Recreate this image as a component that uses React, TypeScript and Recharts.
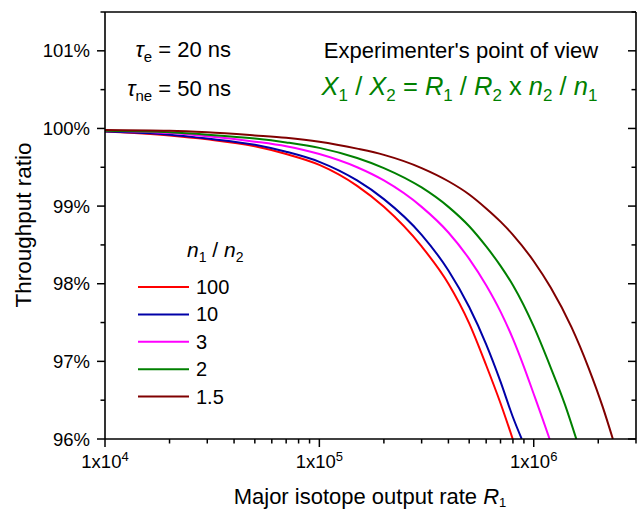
import { LineChart, Line, XAxis, YAxis, Legend, Customized } from 'recharts';

// Throughput ratio (%) vs. major isotope output rate R1 (counts/s), one curve per n1/n2
const rate100 = [1e4, 2e4, 3e4, 5e4, 7e4, 1e5, 1.5e5, 2e5, 3e5, 4e5, 5e5, 6e5, 7e5, 7.98e5];
const ratio100 = [99.96, 99.91, 99.86, 99.77, 99.67, 99.53, 99.26, 98.99, 98.48, 98.0, 97.49, 96.95, 96.46, 96.0];

const rate10 = [1e4, 2e4, 3e4, 5e4, 7e4, 1e5, 1.5e5, 2e5, 3e5, 4e5, 5e5, 6e5, 7e5, 8e5, 8.79e5];
const ratio10 = [99.96, 99.92, 99.87, 99.79, 99.7, 99.57, 99.33, 99.09, 98.63, 98.17, 97.7, 97.22, 96.74, 96.28, 96.0];

const rate3 = [1e4, 2e4, 3e4, 5e4, 7e4, 1e5, 1.5e5, 2e5, 3e5, 4e5, 5e5, 6e5, 7e5, 8e5, 9e5, 1e6, 1.1e6, 1.186e6];
const ratio3 = [99.97, 99.94, 99.9, 99.83, 99.77, 99.67, 99.5, 99.33, 98.99, 98.66, 98.32, 97.98, 97.64, 97.29, 96.93, 96.58, 96.26, 96.0];

const rate2 = [1e4, 2e4, 3e4, 5e4, 7e4, 1e5, 1.5e5, 2e5, 3e5, 4e5, 5e5, 6e5, 7e5, 8e5, 1e6, 1.2e6, 1.4e6, 1.58e6];
const ratio2 = [99.97, 99.95, 99.92, 99.87, 99.82, 99.75, 99.62, 99.49, 99.24, 98.99, 98.74, 98.48, 98.23, 97.98, 97.45, 96.92, 96.44, 96.0];

const rate15 = [1e4, 2e4, 3e4, 5e4, 7e4, 1e5, 1.5e5, 2e5, 3e5, 4e5, 5e5, 6e5, 7e5, 8e5, 1e6, 1.2e6, 1.5e6, 1.8e6, 2.1e6, 2.34e6];
const ratio15 = [99.98, 99.97, 99.95, 99.91, 99.88, 99.83, 99.74, 99.66, 99.49, 99.32, 99.15, 98.97, 98.8, 98.63, 98.29, 97.95, 97.44, 96.92, 96.41, 96.0];

const xMajor = [1e4, 1e5, 1e6];
const xMinor = [2e4, 3e4, 4e4, 5e4, 6e4, 7e4, 8e4, 9e4, 2e5, 3e5, 4e5, 5e5, 6e5, 7e5, 8e5, 9e5, 2e6, 3e6];
const yMajor = [96, 97, 98, 99, 100, 101];
const yMinor = [96.5, 97.5, 98.5, 99.5, 100.5, 101.5];

const series = [
  { name: '100', color: '#ff0000', rate: rate100, ratio: ratio100 },
  { name: '10', color: '#0000a8', rate: rate10, ratio: ratio10 },
  { name: '3', color: '#ff00ff', rate: rate3, ratio: ratio3 },
  { name: '2', color: '#008000', rate: rate2, ratio: ratio2 },
  { name: '1.5', color: '#800000', rate: rate15, ratio: ratio15 },
];

const FONT = '"Liberation Sans", Arial, Helvetica, sans-serif';
const GREEN = '#008000';
const AXIS = { stroke: '#000', strokeWidth: 1.6 };
const MAJOR_LEN = 8;
const MINOR_LEN = 4.5;

const xTicks = [...xMajor, ...xMinor];
const yTicks = [...yMajor, ...yMinor];

function BottomTick({ x, y, payload }: any) {
  const major = xMajor.includes(payload.value);
  const exp = Math.round(Math.log10(payload.value));
  return (
    <g>
      <line x1={x} x2={x} y1={y} y2={y + (major ? MAJOR_LEN : MINOR_LEN)} stroke="#000" strokeWidth={1.5} />
      {major && (
        <text x={x} y={y + 29} textAnchor="middle" fontSize={18.5} fill="#000">
          1x10<tspan dy={-7} fontSize={13}>{exp}</tspan>
        </text>
      )}
    </g>
  );
}

function TopTick({ x, y, payload }: any) {
  const major = xMajor.includes(payload.value);
  return <line x1={x} x2={x} y1={y} y2={y + (major ? MAJOR_LEN : MINOR_LEN)} stroke="#000" strokeWidth={1.5} />;
}

function LeftTick({ x, y, payload }: any) {
  const major = yMajor.includes(payload.value);
  return (
    <g>
      <line x1={x - (major ? MAJOR_LEN : MINOR_LEN)} x2={x} y1={y} y2={y} stroke="#000" strokeWidth={1.5} />
      {major && (
        <text x={x - 15} y={y + 6.5} textAnchor="end" fontSize={18.5} fill="#000">
          {payload.value}%
        </text>
      )}
    </g>
  );
}

function RightTick({ x, y, payload }: any) {
  const major = yMajor.includes(payload.value);
  return <line x1={x - (major ? MAJOR_LEN : MINOR_LEN)} x2={x} y1={y} y2={y} stroke="#000" strokeWidth={1.5} />;
}

function LegendBox() {
  return (
    <svg width={150} height={180} style={{ fontFamily: FONT, overflow: 'visible' }}>
      <text x={57} y={22} fontSize={21} fill="#000">
        <tspan fontStyle="italic">n</tspan>
        <tspan dy={5} fontSize={14}>1</tspan>
        <tspan dy={-5}> / </tspan>
        <tspan fontStyle="italic">n</tspan>
        <tspan dy={5} fontSize={14}>2</tspan>
      </text>
      {series.map((s, i) => {
        const cy = 52 + i * 27.4;
        return (
          <g key={s.name}>
            <line x1={8} x2={59} y1={cy} y2={cy} stroke={s.color} strokeWidth={2} />
            <text x={66} y={cy + 7} fontSize={20} fill="#000">{s.name}</text>
          </g>
        );
      })}
    </svg>
  );
}

function Annotations() {
  return (
    <g style={{ fontFamily: FONT }}>
      <text x={231} y={57} textAnchor="end" fontSize={22} fill="#000">
        <tspan fontStyle="italic">τ</tspan>
        <tspan dy={5} fontSize={15}>e</tspan>
        <tspan dy={-5}> = 20 ns</tspan>
      </text>
      <text x={231} y={95.5} textAnchor="end" fontSize={22} fill="#000">
        <tspan fontStyle="italic">τ</tspan>
        <tspan dy={5} fontSize={15}>ne</tspan>
        <tspan dy={-5}> = 50 ns</tspan>
      </text>
      <text x={461} y={58} textAnchor="middle" fontSize={22} fill="#000">
        Experimenter's point of view
      </text>
      <text x={459.5} y={95} textAnchor="middle" fontSize={25.5} fill={GREEN}>
        <tspan fontStyle="italic">X</tspan>
        <tspan dy={6} fontSize={17}>1</tspan>
        <tspan dy={-6}> / </tspan>
        <tspan fontStyle="italic">X</tspan>
        <tspan dy={6} fontSize={17}>2</tspan>
        <tspan dy={-6}> = </tspan>
        <tspan fontStyle="italic">R</tspan>
        <tspan dy={6} fontSize={17}>1</tspan>
        <tspan dy={-6}> / </tspan>
        <tspan fontStyle="italic">R</tspan>
        <tspan dy={6} fontSize={17}>2</tspan>
        <tspan dy={-6}> x </tspan>
        <tspan fontStyle="italic">n</tspan>
        <tspan dy={6} fontSize={17}>2</tspan>
        <tspan dy={-6}> / </tspan>
        <tspan fontStyle="italic">n</tspan>
        <tspan dy={6} fontSize={17}>1</tspan>
      </text>
      <text x={370} y={503.5} textAnchor="middle" fontSize={22} fill="#000">
        Major isotope output rate <tspan fontStyle="italic">R</tspan>
        <tspan dy={3} fontSize={13}>1</tspan>
      </text>
      <text
        x={31}
        y={225}
        textAnchor="middle"
        fontSize={22.5}
        fill="#000"
        transform="rotate(-90 31 225)"
      >
        Throughput ratio
      </text>
    </g>
  );
}

export default function App() {
  return (
    <div style={{ position: 'absolute', left: 0, top: 0, fontFamily: FONT, background: '#fff' }}>
      <LineChart width={637} height={510} margin={{ top: 11, right: 0, bottom: 0, left: 0 }}>
        <XAxis
          xAxisId="bottom"
          orientation="bottom"
          type="number"
          scale="log"
          dataKey="r"
          domain={[1e4, 3e6]}
          allowDataOverflow
          ticks={xTicks}
          interval={0}
          height={71}
          tickSize={0}
          tickMargin={0}
          tickLine={false}
          axisLine={AXIS}
          tick={BottomTick}
        />
        <XAxis
          xAxisId="top"
          orientation="top"
          type="number"
          scale="log"
          domain={[1e4, 3e6]}
          allowDataOverflow
          ticks={xTicks}
          interval={0}
          height={1}
          tickSize={0}
          tickMargin={0}
          tickLine={false}
          axisLine={AXIS}
          tick={TopTick}
        />
        <YAxis
          yAxisId="left"
          orientation="left"
          type="number"
          domain={[96, 101.5]}
          allowDataOverflow
          ticks={yTicks}
          interval={0}
          width={105}
          tickSize={0}
          tickMargin={0}
          tickLine={false}
          axisLine={AXIS}
          tick={LeftTick}
        />
        <YAxis
          yAxisId="right"
          orientation="right"
          type="number"
          domain={[96, 101.5]}
          allowDataOverflow
          ticks={yTicks}
          interval={0}
          width={1}
          tickSize={0}
          tickMargin={0}
          tickLine={false}
          axisLine={AXIS}
          tick={RightTick}
        />
        {series.map((s) => (
          <Line
            key={s.name}
            xAxisId="bottom"
            yAxisId="left"
            name={s.name}
            data={s.rate.map((r, i) => ({ r, v: s.ratio[i] }))}
            dataKey="v"
            type="monotone"
            stroke={s.color}
            strokeWidth={2}
            dot={false}
            activeDot={false}
            isAnimationActive={false}
          />
        ))}
        <Legend
          layout="vertical"
          align="center"
          verticalAlign="middle"
          wrapperStyle={{ left: 130, top: 235, width: 150, height: 180 }}
          content={() => <LegendBox />}
        />
        <Customized component={Annotations} />
      </LineChart>
    </div>
  );
}
